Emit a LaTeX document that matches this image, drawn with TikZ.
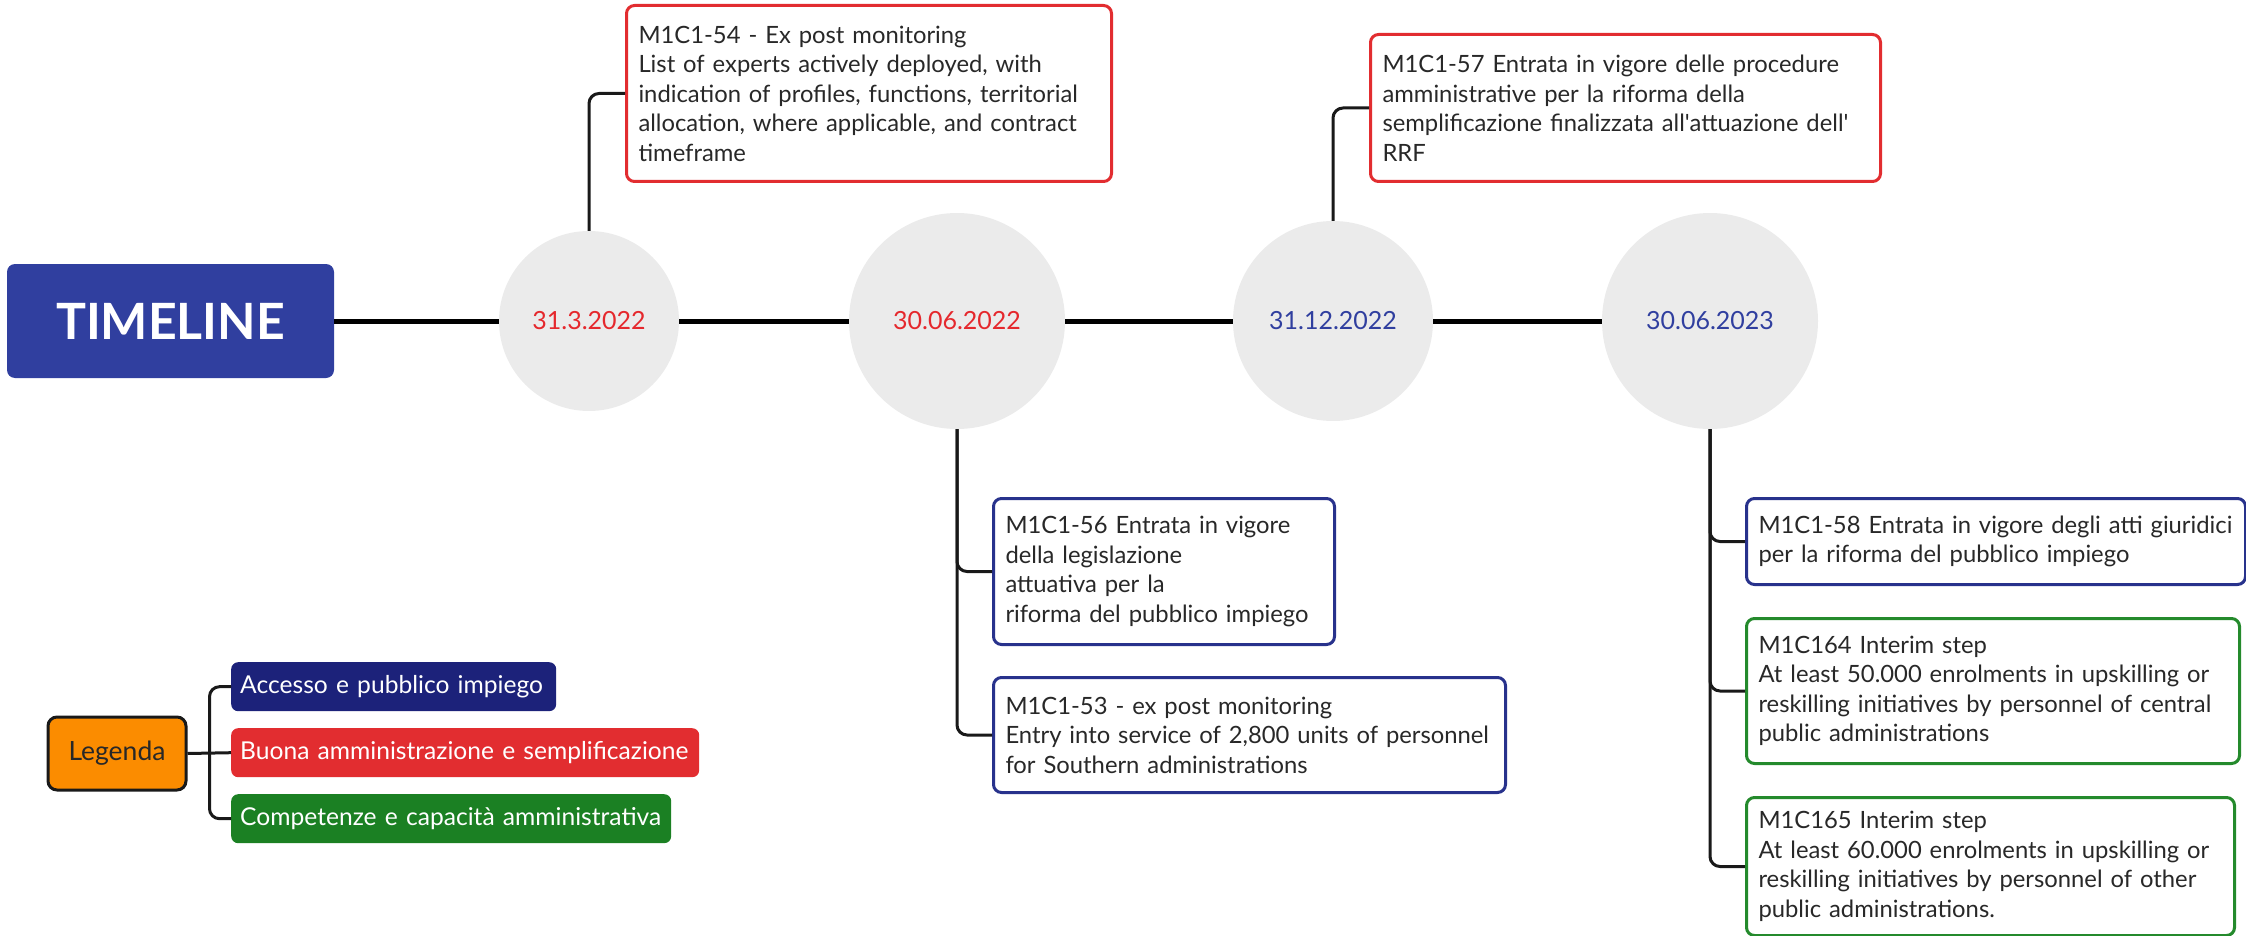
\documentclass[tikz,border=0pt]{standalone}
\usepackage{fontspec}
\setmainfont{Lato}
\usetikzlibrary{calc}
\definecolor{tlblue}{RGB}{48,63,159}
\definecolor{navy}{RGB}{28,34,122}
\definecolor{lgred}{RGB}{226,45,48}
\definecolor{lggreen}{RGB}{27,128,35}
\definecolor{bred}{RGB}{226,45,48}
\definecolor{bblue}{RGB}{40,50,140}
\definecolor{bgreen}{RGB}{36,138,44}
\definecolor{orng}{RGB}{251,140,0}
\definecolor{circgray}{RGB}{235,235,235}
\definecolor{txtgray}{RGB}{40,40,40}
\definecolor{datered}{RGB}{229,40,45}
\definecolor{dateblue}{RGB}{48,63,159}
\newcommand{\rl}[1]{\mbox{#1}}
\begin{document}
\begin{tikzpicture}[x=1pt,y=-1pt,
  mbox/.style={draw, line width=3pt, rounded corners=8pt, fill=white, anchor=north west,
    inner xsep=12pt, inner ysep=0pt, align=left, text=txtgray,
    font=\fontsize{23.8}{29.5}\selectfont},
  datec/.style={circle, fill=circgray, inner sep=0pt, font=\fontsize{25}{28}\selectfont},
  lgbox/.style={rounded corners=7pt, anchor=north west, inner xsep=9pt, inner ysep=0pt,
    minimum height=49pt, align=left, text=white, font=\fontsize{24.6}{28}\selectfont},
  mainline/.style={line width=5pt, black},
  conn/.style={line width=3pt, black!90, rounded corners=10pt},
]
\useasboundingbox (0,0) rectangle (2246,936);

% title
\node[fill=tlblue, rounded corners=8pt, minimum width=327pt, minimum height=114pt, inner sep=0pt,
  text=white, font=\fontsize{50}{54}\selectfont\bfseries] (tl) at (170.5,321) {TIMELINE};

% date circles
\node[datec, minimum size=180pt, text=datered] (c1) at (589,321) {31.3.2022};
\node[datec, minimum size=216pt, text=datered] (c2) at (957,321) {30.06.2022};
\node[datec, minimum size=200pt, text=dateblue] (c3) at (1333,321) {31.12.2022};
\node[datec, minimum size=216pt, text=dateblue] (c4) at (1710,321) {30.06.2023};

\draw[mainline] (tl.east) -- (c1.west);
\draw[mainline] (c1.east) -- (c2.west);
\draw[mainline] (c2.east) -- (c3.west);
\draw[mainline] (c3.east) -- (c4.west);

% milestone boxes
\node[mbox, draw=bred, text width=461pt, minimum height=176pt] (b54) at (625,4)
  {\rl{M1C1-54 - Ex post monitoring}\\\rl{List of experts actively deployed, with}\\\rl{indication of profiles, functions, territorial}\\\rl{allocation, where applicable, and contract}\\\rl{timeframe}};
\node[mbox, draw=bred, text width=486pt, minimum height=147pt] (b57) at (1369,33)
  {\rl{M1C1-57 Entrata in vigore delle procedure}\\\rl{amministrative per la riforma della}\\\rl{semplificazione finalizzata all\textquotesingle attuazione dell\textquotesingle}\\\rl{RRF}};
\node[mbox, draw=bblue, text width=317pt, minimum height=146pt] (b56) at (992,497)
  {\rl{M1C1-56 Entrata in vigore}\\\rl{della legislazione}\\\rl{attuativa per la}\\\rl{riforma del pubblico impiego}};
\node[mbox, draw=bblue, text width=488pt, minimum height=115pt] (b53) at (992,676)
  {\rl{M1C1-53 - ex post monitoring}\\\rl{Entry into service of 2,800 units of personnel}\\\rl{for Southern administrations}};
\node[mbox, draw=bblue, text width=475pt, minimum height=86pt] (b58) at (1745,497)
  {\rl{M1C1-58 Entrata in vigore degli atti giuridici}\\\rl{per la riforma del pubblico impiego}};
\node[mbox, draw=bgreen, text width=469pt, minimum height=145pt] (b164) at (1745,617)
  {\rl{M1C164 Interim step}\\\rl{At least 50.000 enrolments in upskilling or}\\\rl{reskilling initiatives by personnel of central}\\\rl{public administrations}};
\node[mbox, draw=bgreen, text width=464pt, minimum height=138pt] (b165) at (1745,796)
  {\rl{M1C165 Interim step}\\\rl{At least 60.000 enrolments in upskilling or}\\\rl{reskilling initiatives by personnel of other}\\\rl{public administrations.}};

% connectors
\draw[conn] (c1.north) |- (b54.west);
\draw[conn] (c3.north) |- (b57.west);
\draw[conn] (c2.south) |- (b56.west);
\draw[conn] (c2.south) |- (b53.west);
\draw[conn] (c4.south) |- (b58.west);
\draw[conn] (c4.south) |- (b164.west);
\draw[conn] (c4.south) |- (b165.west);

% legend
\node[draw=black!90, line width=3pt, fill=orng, rounded corners=9pt, minimum width=138pt,
  minimum height=73pt, inner sep=0pt, text=txtgray, font=\fontsize{26.5}{30}\selectfont]
  (leg) at (117,753.5) {Legenda};
\node[lgbox, fill=navy, text width=307pt] (acc) at (231,662) {\rl{Accesso e pubblico impiego}};
\node[lgbox, fill=lgred, text width=450pt] (buo) at (231,728) {\rl{Buona amministrazione e semplificazione}};
\node[lgbox, fill=lggreen, text width=422pt] (cmp) at (231,794) {\rl{Competenze e capacità amministrativa}};

\coordinate (j) at ($(leg.east)+(22,0)$);
\draw[conn] (leg.east) -- (buo.west);
\draw[conn] (j) |- (acc.west);
\draw[conn] (j) |- (cmp.west);
\end{tikzpicture}
\end{document}
